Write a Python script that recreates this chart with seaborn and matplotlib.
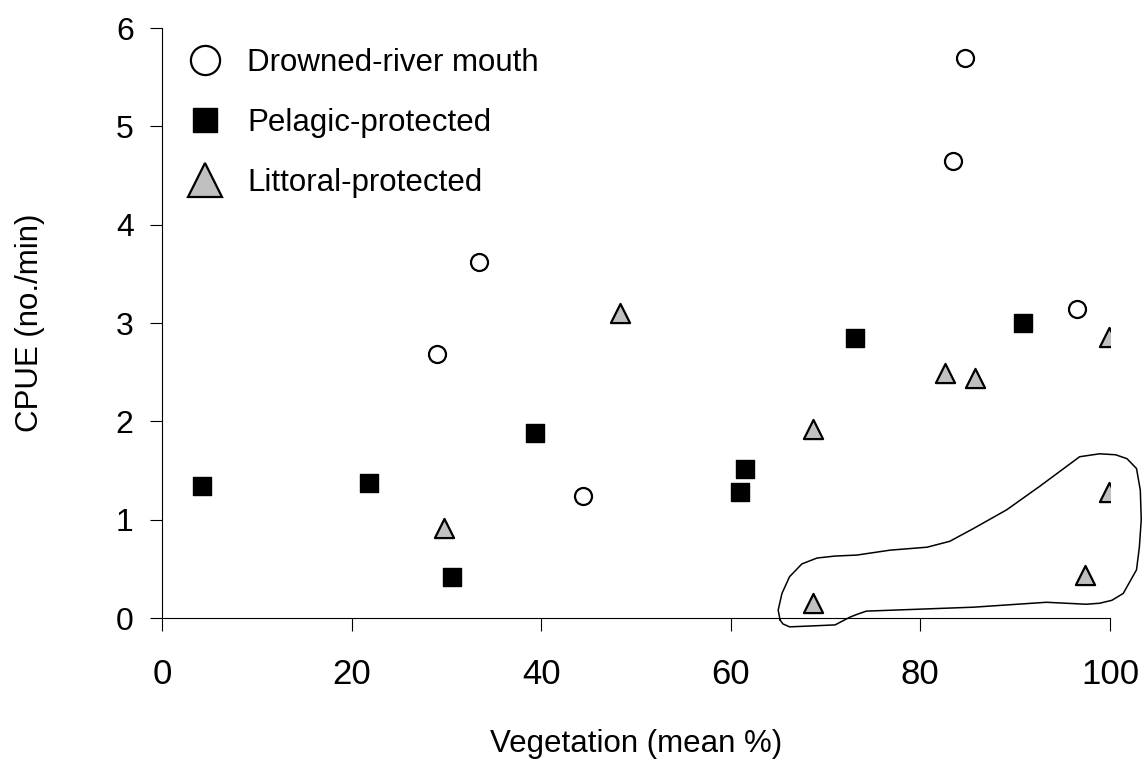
import seaborn as sns
import matplotlib.pyplot as plt
import pandas as pd
from matplotlib.lines import Line2D

# values
drowned_x = [29.0, 33.4, 44.4, 83.4, 84.7, 96.5]
drowned_y = [2.68, 3.62, 1.24, 4.65, 5.69, 3.14]

pelagic_x = [4.2, 21.8, 30.6, 39.4, 61.0, 61.5, 73.1, 90.8]
pelagic_y = [1.34, 1.37, 0.42, 1.88, 1.28, 1.52, 2.85, 3.00]

littoral_x = [29.7, 48.3, 68.7, 68.7, 82.6, 85.8, 99.9, 99.9, 97.4]
littoral_y = [0.92, 3.10, 1.92, 0.15, 2.49, 2.44, 2.86, 1.28, 0.44]

# hand-drawn outline around the low littoral sites
outline_x = [65.2, 65.0, 65.4, 66.2, 67.5, 69.1, 71.0, 73.3, 76.8, 80.7, 83.1, 85.6,
             89.1, 92.6, 96.8, 98.9, 100.6, 101.8, 102.8, 103.2, 103.3, 103.1, 102.8,
             101.4, 100.2, 98.9, 97.5, 93.3, 85.6, 74.3, 73.4, 72.6, 71.0, 68.7,
             66.2, 65.5, 65.2]
outline_y = [-0.02, 0.08, 0.25, 0.42, 0.55, 0.61, 0.63, 0.64, 0.69, 0.72, 0.78, 0.91,
             1.10, 1.34, 1.64, 1.67, 1.66, 1.62, 1.52, 1.30, 1.00, 0.72, 0.49,
             0.25, 0.18, 0.15, 0.14, 0.16, 0.11, 0.07, 0.04, 0.01, -0.07, -0.08,
             -0.09, -0.06, -0.02]

drowned = pd.DataFrame({'veg': drowned_x, 'cpue': drowned_y})
pelagic = pd.DataFrame({'veg': pelagic_x, 'cpue': pelagic_y})
littoral = pd.DataFrame({'veg': littoral_x, 'cpue': littoral_y})

sns.set_theme(style='ticks')
plt.rcParams['font.family'] = ['Liberation Sans', 'DejaVu Sans']
plt.rcParams['text.color'] = 'black'
plt.rcParams['axes.labelcolor'] = 'black'
plt.rcParams['xtick.color'] = 'black'
plt.rcParams['ytick.color'] = 'black'

fig = plt.figure(figsize=(11.43, 7.61), dpi=100)
ax = fig.add_axes([0.1417, 0.1879, 0.8294, 0.7753])

sns.scatterplot(data=drowned, x='veg', y='cpue', ax=ax, marker='o', s=150,
                color='white', edgecolor='black', linewidth=1.6, zorder=3)
sns.scatterplot(data=pelagic, x='veg', y='cpue', ax=ax, marker='s', s=165,
                color='black', edgecolor='black', linewidth=1.0, zorder=3)
sns.scatterplot(data=littoral, x='veg', y='cpue', ax=ax, marker='^', s=190,
                color='#c0c0c0', edgecolor='black', linewidth=1.6, zorder=3)

ax.plot(outline_x, outline_y, color='black', lw=1.1, clip_on=False, zorder=2)

ax.set_xlim(0, 100)
ax.set_ylim(0, 6)
ax.set_xticks(range(0, 101, 20))
ax.set_yticks(range(0, 7))
ax.set_xlabel('Vegetation (mean %)', fontsize=22.5, labelpad=27)
ax.set_ylabel('CPUE (no./min)', fontsize=22.5, labelpad=51)

sns.despine(ax=ax)
for sp in ['left', 'bottom']:
    ax.spines[sp].set_linewidth(0.8)
    ax.spines[sp].set_color('black')
ax.tick_params(axis='x', direction='out', length=9, width=0.8, color='black',
               labelsize=25, pad=20)
ax.tick_params(axis='y', direction='out', length=8.4, width=0.8, color='black',
               labelsize=23, pad=12)

handles = [
    Line2D([], [], ls='', marker='o', ms=21, mfc='white', mec='black', mew=1.6),
    Line2D([], [], ls='', marker='s', ms=17, mfc='black', mec='black', mew=1.0),
    Line2D([], [], ls='', marker='^', ms=24, mfc='#c0c0c0', mec='black', mew=1.6),
]
labels = ['Drowned-river mouth', 'Pelagic-protected', 'Littoral-protected']
ax.legend(handles, labels, loc='upper left', bbox_to_anchor=(0.029, 0.966),
          frameon=False, fontsize=22.5, borderaxespad=0, borderpad=0,
          handlelength=1.0, handletextpad=0.85, labelspacing=0.96)

fig.savefig('out.png', dpi=100)
